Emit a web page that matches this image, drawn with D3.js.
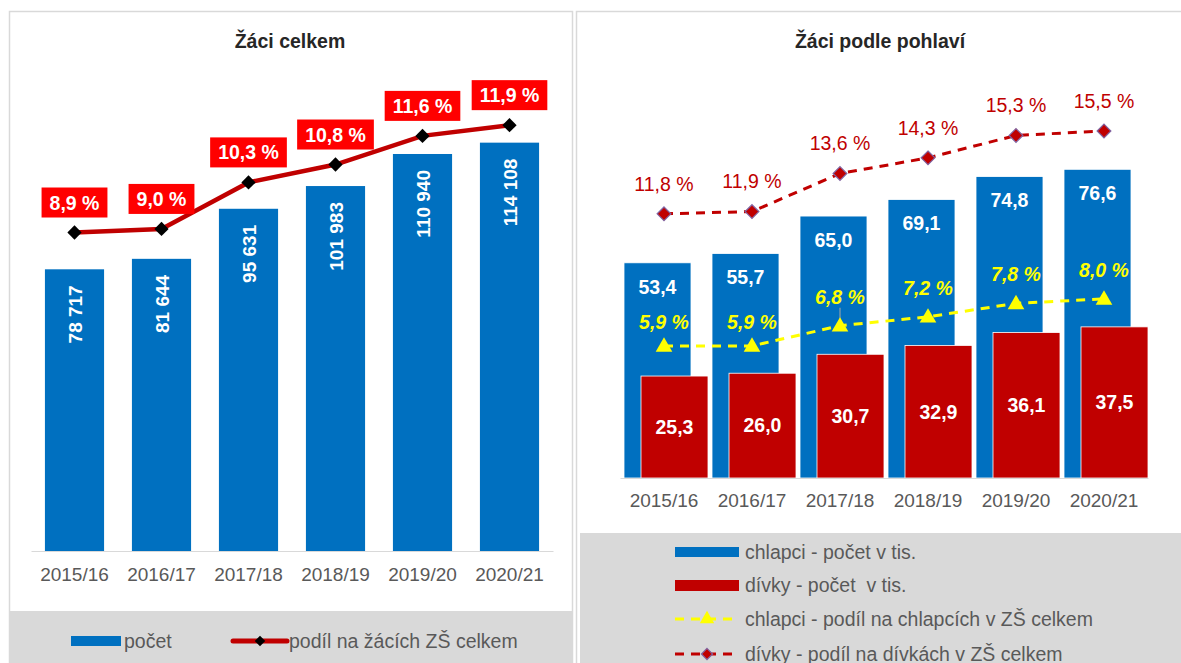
<!DOCTYPE html>
<html>
  <head>
    <meta charset="utf-8" />
    <title>Žáci celkem a podle pohlaví</title>
    <style>
      body { margin: 0; background: #fff; }
      svg { display: block; font-family: "Liberation Sans", Arial, sans-serif; }
      .pre { white-space: pre; }
    </style>
  </head>
  <body>
    <svg width="1181" height="663"></svg>

    <script src="https://d3js.org/d3.v7.min.js"></script>
    <script>
      // data
      const years = ["2015/16", "2016/17", "2017/18", "2018/19", "2019/20", "2020/21"];
      const pocet = [78717, 81644, 95631, 101983, 110940, 114108];
      const podil = [8.9, 9.0, 10.3, 10.8, 11.6, 11.9];
      const chlapci = [53.4, 55.7, 65.0, 69.1, 74.8, 76.6];
      const divky = [25.3, 26.0, 30.7, 32.9, 36.1, 37.5];
      const podilChlapci = [5.9, 5.9, 6.8, 7.2, 7.8, 8.0];
      const podilDivky = [11.8, 11.9, 13.6, 14.3, 15.3, 15.5];

      const cz = d3.formatLocale({ decimal: ",", thousands: " ", grouping: [3], currency: ["", " Kč"] });
      const fmtInt = cz.format(",d");
      const fmt1 = cz.format(".1f");
      const pct = v => fmt1(v) + " %";

      const BLUE = "#0070c0", DARKRED = "#c00000", RED = "#ff0000", GREY = "#595959";

      const svg = d3.select("svg");

      // panels
      svg.append("rect").attr("x", 9.5).attr("y", 11.5).attr("width", 563).attr("height", 660)
        .attr("fill", "#fff").attr("stroke", "#d9d9d9").attr("stroke-width", 1.5);
      svg.append("rect").attr("x", 576.5).attr("y", 11.5).attr("width", 610).attr("height", 660)
        .attr("fill", "#fff").attr("stroke", "#d9d9d9").attr("stroke-width", 1.5);
      svg.append("rect").attr("x", 10).attr("y", 611).attr("width", 562).attr("height", 52).attr("fill", "#d9d9d9");
      svg.append("rect").attr("x", 580).attr("y", 533).attr("width", 601).attr("height", 130).attr("fill", "#d9d9d9");

      // ---------- left chart: Žáci celkem ----------
      const L = svg.append("g");
      L.append("text").attr("x", 290).attr("y", 48).attr("text-anchor", "middle")
        .attr("font-size", 19.5).attr("font-weight", "bold").attr("fill", "#262626").text("Žáci celkem");

      const x = d3.scaleBand().domain(years).range([31, 553]).paddingInner(0.32).paddingOuter(0.16);
      const y = d3.scaleLinear().domain([0, 140000]).range([551, 50]);
      const yp = d3.scaleLinear().domain([0, 14]).range([551, 50]);

      L.selectAll(".bar").data(years).enter().append("rect")
        .attr("x", d => x(d)).attr("width", x.bandwidth())
        .attr("y", (d, i) => y(pocet[i])).attr("height", (d, i) => y(0) - y(pocet[i]))
        .attr("fill", BLUE);

      L.selectAll(".barlab").data(years).enter().append("text")
        .attr("transform", (d, i) => "translate(" + (x(d) + x.bandwidth() / 2 + 7) + "," + (y(pocet[i]) + 16) + ") rotate(-90)")
        .attr("text-anchor", "end").attr("font-size", 19).attr("font-weight", "bold").attr("fill", "#fff")
        .text((d, i) => fmtInt(pocet[i]));

      const xa = L.append("g").attr("transform", "translate(0,551)")
        .call(d3.axisBottom(x).tickSize(0).tickPadding(17));
      xa.select(".domain").attr("stroke", "#d9d9d9");
      xa.selectAll("text").attr("font-size", 19).attr("fill", GREY).attr("font-family", "Liberation Sans, Arial");

      const line = d3.line().x((d, i) => x(years[i]) + x.bandwidth() / 2).y(d => yp(d));
      L.append("path").datum(podil).attr("d", line).attr("fill", "none")
        .attr("stroke", DARKRED).attr("stroke-width", 4.5);
      L.selectAll(".mk").data(podil).enter().append("path")
        .attr("d", d3.symbol(d3.symbolDiamond2, 130))
        .attr("transform", (d, i) => "translate(" + (x(years[i]) + x.bandwidth() / 2) + "," + yp(d) + ")")
        .attr("fill", "#000");

      const lab = L.selectAll(".plab").data(podil).enter().append("g")
        .attr("transform", (d, i) => "translate(" + (x(years[i]) + x.bandwidth() / 2) + "," + (yp(d) - 30) + ")");
      lab.append("text").attr("text-anchor", "middle").attr("dy", "0.36em")
        .attr("font-size", 19.5).attr("font-weight", "bold").attr("fill", "#fff").text(d => pct(d))
        .each(function () {
          const w = this.getComputedTextLength();
          d3.select(this.parentNode).insert("rect", "text")
            .attr("x", -w / 2 - 8).attr("y", -15).attr("width", w + 16).attr("height", 30).attr("fill", RED);
        });

      // left legend
      L.append("rect").attr("x", 71).attr("y", 636).attr("width", 50).attr("height", 10).attr("fill", BLUE);
      L.append("text").attr("x", 124).attr("y", 641).attr("dy", "0.35em").attr("font-size", 19.5).attr("fill", GREY).text("počet");
      L.append("line").attr("x1", 233).attr("x2", 287).attr("y1", 641).attr("y2", 641)
        .attr("stroke", DARKRED).attr("stroke-width", 5).attr("stroke-linecap", "round");
      L.append("path").attr("d", d3.symbol(d3.symbolDiamond2, 70)).attr("transform", "translate(260,641)").attr("fill", "#000");
      L.append("text").attr("x", 289).attr("y", 641).attr("dy", "0.35em").attr("font-size", 19.5).attr("fill", GREY)
        .text("podíl na žácích ZŠ celkem");

      // ---------- right chart: Žáci podle pohlaví ----------
      const R = svg.append("g");
      R.append("text").attr("x", 880).attr("y", 48).attr("text-anchor", "middle")
        .attr("font-size", 19.5).attr("font-weight", "bold").attr("fill", "#262626").text("Žáci podle pohlaví");

      const xr = d3.scaleBand().domain(years).range([620, 1148]);
      const yr = d3.scaleLinear().domain([0, 100]).range([478, 75]);
      const yrp = d3.scaleLinear().domain([0, 18]).range([478, 75]);
      const bw = 67;
      const cx = d => xr(d) + xr.bandwidth() / 2;

      R.selectAll(".bc").data(years).enter().append("rect")
        .attr("x", d => xr(d) + 4).attr("width", bw)
        .attr("y", (d, i) => yr(chlapci[i])).attr("height", (d, i) => yr(0) - yr(chlapci[i]))
        .attr("fill", BLUE).attr("stroke", "#fff").attr("stroke-width", 0.8);
      R.selectAll(".bd").data(years).enter().append("rect")
        .attr("x", d => xr(d) + 21).attr("width", bw)
        .attr("y", (d, i) => yr(divky[i])).attr("height", (d, i) => yr(0) - yr(divky[i]))
        .attr("fill", DARKRED).attr("stroke", "#fff").attr("stroke-width", 0.8);

      R.selectAll(".lc").data(years).enter().append("text")
        .attr("x", d => xr(d) + 4 + bw / 2).attr("y", (d, i) => yr(chlapci[i]) + 24).attr("dy", "0.35em")
        .attr("text-anchor", "middle").attr("font-size", 19.5).attr("font-weight", "bold").attr("fill", "#fff")
        .text((d, i) => fmt1(chlapci[i]));
      R.selectAll(".ld").data(years).enter().append("text")
        .attr("x", d => xr(d) + 21 + bw / 2).attr("y", (d, i) => (yr(divky[i]) + yr(0)) / 2).attr("dy", "0.35em")
        .attr("text-anchor", "middle").attr("font-size", 19.5).attr("font-weight", "bold").attr("fill", "#fff")
        .text((d, i) => fmt1(divky[i]));

      const xra = R.append("g").attr("transform", "translate(0,478)")
        .call(d3.axisBottom(xr).tickSize(0).tickPadding(16));
      xra.select(".domain").attr("stroke", "#d9d9d9");
      xra.selectAll("text").attr("font-size", 19).attr("fill", GREY).attr("font-family", "Liberation Sans, Arial");

      const lineR = d3.line().x((d, i) => cx(years[i])).y(d => yrp(d));

      // dívky share
      R.append("path").datum(podilDivky).attr("d", lineR).attr("fill", "none")
        .attr("stroke", DARKRED).attr("stroke-width", 3).attr("stroke-dasharray", "9,7");
      R.selectAll(".md").data(podilDivky).enter().append("path")
        .attr("d", d3.symbol(d3.symbolDiamond2, 120))
        .attr("transform", (d, i) => "translate(" + cx(years[i]) + "," + yrp(d) + ")")
        .attr("fill", DARKRED).attr("stroke", "#8064a2").attr("stroke-width", 1.2);
      R.selectAll(".tdv").data(podilDivky).enter().append("text")
        .attr("x", (d, i) => cx(years[i])).attr("y", d => yrp(d) - 30).attr("dy", "0.35em")
        .attr("text-anchor", "middle").attr("font-size", 19.5).attr("fill", DARKRED).text(d => pct(d));

      // chlapci share
      R.append("line").attr("x1", cx(years[2])).attr("x2", cx(years[2]))
        .attr("y1", yrp(podilChlapci[2]) - 18).attr("y2", yrp(podilChlapci[2]) - 6)
        .attr("stroke", "#a6a6a6").attr("stroke-width", 1);
      R.append("path").datum(podilChlapci).attr("d", lineR).attr("fill", "none")
        .attr("stroke", "#ffff00").attr("stroke-width", 3).attr("stroke-dasharray", "9,7");
      R.selectAll(".mc").data(podilChlapci).enter().append("path")
        .attr("d", d3.symbol(d3.symbolTriangle, 120))
        .attr("transform", (d, i) => "translate(" + cx(years[i]) + "," + (yrp(d) + 1) + ")")
        .attr("fill", "#ffff00");
      R.selectAll(".tch").data(podilChlapci).enter().append("text")
        .attr("x", (d, i) => cx(years[i])).attr("y", (d, i) => yrp(d) - (i < 2 ? 24 : 29)).attr("dy", "0.35em")
        .attr("text-anchor", "middle").attr("font-size", 19.5).attr("font-weight", "bold").attr("font-style", "italic")
        .attr("fill", "#ffff00").text(d => pct(d));

      // right legend
      const lg = R.append("g");
      lg.append("rect").attr("x", 675).attr("y", 547).attr("width", 64).attr("height", 10).attr("fill", BLUE);
      lg.append("rect").attr("x", 675).attr("y", 580).attr("width", 64).attr("height", 11).attr("fill", DARKRED);
      lg.append("line").attr("x1", 675).attr("x2", 739).attr("y1", 619).attr("y2", 619)
        .attr("stroke", "#ffff00").attr("stroke-width", 3).attr("stroke-dasharray", "9,7");
      lg.append("path").attr("d", d3.symbol(d3.symbolTriangle, 90)).attr("transform", "translate(707,619)").attr("fill", "#ffff00");
      lg.append("line").attr("x1", 675).attr("x2", 739).attr("y1", 654).attr("y2", 654)
        .attr("stroke", DARKRED).attr("stroke-width", 3).attr("stroke-dasharray", "9,7");
      lg.append("path").attr("d", d3.symbol(d3.symbolDiamond2, 80)).attr("transform", "translate(707,654)")
        .attr("fill", DARKRED).attr("stroke", "#8064a2").attr("stroke-width", 1.2);
      const legTexts = ["chlapci - počet v tis.", "dívky - počet  v tis.", "chlapci - podíl na chlapcích v ZŠ celkem", "dívky - podíl na dívkách v ZŠ celkem"];
      lg.selectAll(".lt").data(legTexts).enter().append("text").attr("class", "pre")
        .attr("x", 745).attr("y", (d, i) => [552, 585, 619, 654][i]).attr("dy", "0.35em")
        .attr("font-size", 19.5).attr("fill", GREY).text(d => d);
    </script>
  </body>
</html>
